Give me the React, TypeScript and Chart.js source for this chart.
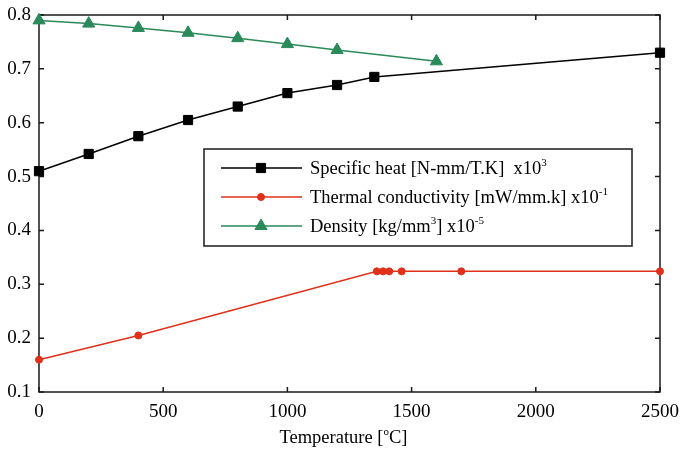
import React, { useEffect, useRef } from "react";
import { Chart, registerables } from "chart.js";

Chart.register(...registerables);

// ---- data ----
const heatTemps = [0, 200, 400, 600, 800, 1000, 1200, 1350, 2500];
const heatValues = [0.51, 0.542, 0.575, 0.605, 0.63, 0.655, 0.67, 0.685, 0.73];

const condTemps = [0, 400, 1360, 1385, 1410, 1460, 1700, 2500];
const condValues = [0.16, 0.205, 0.324, 0.324, 0.324, 0.324, 0.324, 0.324];

const densTemps = [0, 200, 400, 600, 800, 1000, 1200, 1600];
const densValues = [0.79, 0.784, 0.776, 0.767, 0.757, 0.746, 0.735, 0.714];

const xTicks = [0, 500, 1000, 1500, 2000, 2500];
const yTicks = [0.1, 0.2, 0.3, 0.4, 0.5, 0.6, 0.7, 0.8];

type Part = { t: string; sup?: boolean };
const legendLabels: Part[][] = [
  [{ t: "Specific heat [N-mm/T.K]  x10" }, { t: "3", sup: true }],
  [{ t: "Thermal conductivity [mW/mm.k] x10" }, { t: "-1", sup: true }],
  [{ t: "Density [kg/mm" }, { t: "3", sup: true }, { t: "] x10" }, { t: "-5", sup: true }],
];
const xTitle: Part[] = [{ t: "Temperature [" }, { t: "o", sup: true }, { t: "C]" }];

const BLACK = "#000000";
const RED = "#e0301a";
const GREEN = "#2a8a5a";
const FONT = "Liberation Serif";

const pts = (xs: number[], ys: number[]) => xs.map((x, i) => ({ x, y: ys[i] }));

function richWidth(ctx: CanvasRenderingContext2D, parts: Part[], size: number) {
  let w = 0;
  for (const p of parts) {
    ctx.font = `${p.sup ? Math.round(size * 0.6) : size}px "${FONT}"`;
    w += ctx.measureText(p.t).width;
  }
  return w;
}

function drawRich(ctx: CanvasRenderingContext2D, parts: Part[], x: number, y: number, size: number) {
  ctx.textBaseline = "alphabetic";
  ctx.textAlign = "left";
  let cx = x;
  for (const p of parts) {
    const s = p.sup ? Math.round(size * 0.6) : size;
    ctx.font = `${s}px "${FONT}"`;
    ctx.fillText(p.t, cx, p.sup ? y - size * 0.45 : y);
    cx += ctx.measureText(p.t).width;
  }
}

function drawMarker(ctx: CanvasRenderingContext2D, kind: string, x: number, y: number, color: string) {
  ctx.fillStyle = color;
  ctx.strokeStyle = color;
  ctx.lineWidth = 1;
  ctx.beginPath();
  if (kind === "rect") {
    ctx.rect(x - 4.6, y - 4.6, 9.2, 9.2);
  } else if (kind === "circle") {
    ctx.arc(x, y, 3.5, 0, Math.PI * 2);
  } else {
    const r = 7;
    ctx.moveTo(x, y - r);
    ctx.lineTo(x + Math.sin((2 * Math.PI) / 3) * r, y + r / 2);
    ctx.lineTo(x - Math.sin((2 * Math.PI) / 3) * r, y + r / 2);
    ctx.closePath();
  }
  ctx.fill();
  ctx.stroke();
}

const framePlugin = {
  id: "frame",
  beforeDatasetsDraw(chart: any) {
    const { ctx, chartArea: a, scales } = chart;
    ctx.save();
    ctx.strokeStyle = "#1a1a1a";
    ctx.lineWidth = 1.5;
    ctx.strokeRect(a.left, a.top, a.right - a.left, a.bottom - a.top);
    ctx.beginPath();
    const L = 5;
    for (const v of xTicks) {
      const px = scales.x.getPixelForValue(v);
      ctx.moveTo(px, a.bottom);
      ctx.lineTo(px, a.bottom - L);
      ctx.moveTo(px, a.top);
      ctx.lineTo(px, a.top + L);
    }
    for (const v of yTicks) {
      const py = scales.y.getPixelForValue(v);
      ctx.moveTo(a.left, py);
      ctx.lineTo(a.left + L, py);
      ctx.moveTo(a.right, py);
      ctx.lineTo(a.right - L, py);
    }
    ctx.stroke();
    ctx.restore();
  },
  afterDraw(chart: any) {
    const { ctx, chartArea: a } = chart;
    ctx.save();
    // legend box
    const bx = a.left + 165;
    const by = a.top + 134;
    const bw = 428;
    const bh = 97;
    ctx.fillStyle = "#ffffff";
    ctx.fillRect(bx, by, bw, bh);
    ctx.strokeStyle = "#1a1a1a";
    ctx.lineWidth = 1.5;
    ctx.strokeRect(bx, by, bw, bh);
    const colors = [BLACK, RED, GREEN];
    const kinds = ["rect", "circle", "triangle"];
    for (let i = 0; i < 3; i++) {
      const ry = by + 19 + i * 29;
      ctx.strokeStyle = colors[i];
      ctx.lineWidth = 1.5;
      ctx.beginPath();
      ctx.moveTo(bx + 17, ry);
      ctx.lineTo(bx + 98, ry);
      ctx.stroke();
      drawMarker(ctx, kinds[i], bx + 57, ry, colors[i]);
      ctx.fillStyle = "#000000";
      drawRich(ctx, legendLabels[i], bx + 106, ry + 6, 18.5);
    }
    // x title
    ctx.fillStyle = "#000000";
    const size = 18.5;
    const w = richWidth(ctx, xTitle, size);
    drawRich(ctx, xTitle, (a.left + a.right) / 2 - 6 - w / 2, 443, size);
    ctx.restore();
  },
};

export default function App() {
  const ref = useRef<HTMLCanvasElement | null>(null);
  useEffect(() => {
    if (!ref.current) return;
    const chart = new Chart(ref.current, {
      type: "line",
      data: {
        datasets: [
          {
            label: "Specific heat",
            data: pts(heatTemps, heatValues),
            borderColor: BLACK,
            backgroundColor: BLACK,
            borderWidth: 1.5,
            pointStyle: "rect",
            pointRadius: 6.5,
            pointBorderWidth: 1,
            clip: false,
          } as any,
          {
            label: "Thermal conductivity",
            data: pts(condTemps, condValues),
            borderColor: RED,
            backgroundColor: RED,
            borderWidth: 1.5,
            pointStyle: "circle",
            pointRadius: 3.5,
            pointBorderWidth: 1,
            clip: false,
          } as any,
          {
            label: "Density",
            data: pts(densTemps, densValues),
            borderColor: GREEN,
            backgroundColor: GREEN,
            borderWidth: 1.5,
            pointStyle: "triangle",
            pointRadius: 7,
            pointBorderWidth: 1,
            clip: false,
          } as any,
        ],
      },
      options: {
        responsive: false,
        animation: false,
        layout: { padding: { top: 15, right: 21, left: 0, bottom: 0 } },
        plugins: {
          legend: { display: false },
          tooltip: { enabled: false },
          title: { display: false },
        },
        elements: { line: { tension: 0 } },
        scales: {
          x: {
            type: "linear",
            min: 0,
            max: 2500,
            afterFit: (s: any) => {
              s.height = 61;
              s.paddingLeft = 0;
              s.paddingRight = 0;
            },
            afterBuildTicks: (s: any) => {
              s.ticks = xTicks.map((v) => ({ value: v }));
            },
            grid: { display: false, drawTicks: false },
            border: { display: false },
            ticks: {
              padding: 9,
              color: "#000",
              autoSkip: false,
              maxRotation: 0,
              font: { family: FONT, size: 19 },
              callback: (v: any) => String(v),
            },
          },
          y: {
            type: "linear",
            min: 0.1,
            max: 0.8,
            afterFit: (s: any) => {
              s.width = 39;
              s.paddingTop = 0;
              s.paddingBottom = 0;
            },
            afterBuildTicks: (s: any) => {
              s.ticks = yTicks.map((v) => ({ value: v }));
            },
            grid: { display: false, drawTicks: false },
            border: { display: false },
            ticks: {
              padding: 8,
              color: "#000",
              autoSkip: false,
              font: { family: FONT, size: 19 },
              callback: (v: any) => Number(v).toFixed(1),
            },
          },
        },
      },
      plugins: [framePlugin],
    });
    return () => chart.destroy();
  }, []);
  return (
    <div style={{ position: "absolute", left: 0, top: 0, width: 681, height: 453, background: "#fff" }}>
      <canvas ref={ref} width={681} height={453} />
    </div>
  );
}
